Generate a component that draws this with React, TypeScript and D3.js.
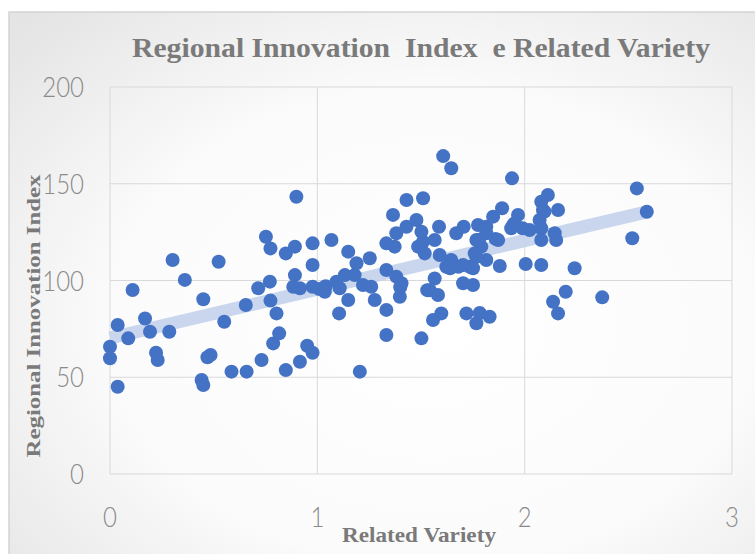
import React from "react";
import * as d3 from "d3";

const title = "Regional Innovation  Index  e Related Variety";
const xTitle = "Related Variety";
const yTitle = "Regional Innovation Index";
const xTicks = [0, 1, 2, 3];
const yTicks = [0, 50, 100, 150, 200];

const relatedVariety = [
  0.0, 0.0, 0.037, 0.037, 0.088, 0.109, 0.169, 0.193, 0.222, 0.23, 0.286, 0.302, 0.361, 0.442, 0.45, 0.45,
  0.485, 0.47, 0.524, 0.551, 0.586, 0.659, 0.655, 0.715, 0.731, 0.752, 0.774, 0.771, 0.774, 0.787, 0.803,
  0.816, 0.848, 0.848, 0.884, 0.892, 0.892, 0.899, 0.916, 0.916, 0.951, 0.977, 0.977, 0.977, 0.977, 1.01,
  1.036, 1.04, 1.068, 1.092, 1.108, 1.105, 1.133, 1.149, 1.149, 1.18, 1.189, 1.205, 1.22, 1.253, 1.26,
  1.277, 1.333, 1.333, 1.333, 1.333, 1.365, 1.373, 1.381, 1.381, 1.398, 1.406, 1.4, 1.43, 1.43, 1.478,
  1.486, 1.502, 1.51, 1.51, 1.518, 1.502, 1.53, 1.542, 1.558, 1.566, 1.566, 1.587, 1.59, 1.582, 1.598,
  1.607, 1.622, 1.64, 1.646, 1.646, 1.67, 1.68, 1.703, 1.703, 1.706, 1.719, 1.735, 1.751, 1.751, 1.759,
  1.767, 1.767, 1.767, 1.775, 1.783, 1.791, 1.815, 1.815, 1.815, 1.831, 1.848, 1.86, 1.872, 1.88, 1.891,
  1.935, 1.939, 1.944, 1.952, 1.968, 1.99, 2.005, 2.024, 2.072, 2.08, 2.08, 2.08, 2.08, 2.088, 2.096,
  2.112, 2.137, 2.145, 2.152, 2.161, 2.161, 2.198, 2.241, 2.374, 2.519, 2.541, 2.589, 1.78,
];

const innovationIndex = [
  65.8, 59.8, 77.0, 45.1, 70.1, 95.1, 80.4, 73.5, 62.7, 58.9, 73.5, 110.6, 100.3, 48.6, 46.0, 90.3,
  61.5, 60.3, 109.7, 78.7, 52.9, 52.9, 87.3, 96.0, 58.9, 122.6, 116.6, 99.4, 89.6, 67.5, 83.0,
  72.7, 114.0, 53.7, 96.8, 117.5, 102.8, 143.3, 96.0, 58.0, 66.3, 119.2, 108.0, 96.8, 62.7, 95.6,
  94.2, 97.0, 120.9, 99.4, 96.0, 83.0, 102.8, 114.9, 89.9, 102.8, 108.9, 52.9, 97.7, 111.5, 96.8,
  89.9, 119.2, 105.4, 84.8, 71.8, 133.9, 117.5, 124.4, 102.0, 91.6, 98.6, 96.5, 141.6, 127.8, 131.3,
  117.5, 125.2, 142.5, 120.0, 114.0, 70.1, 95.0, 95.0, 79.6, 120.9, 101.0, 127.8, 113.2, 92.5, 83.0,
  164.3, 107.1, 106.3, 158.0, 110.6, 124.4, 107.1, 108.0, 98.6, 127.8, 83.0, 107.1, 106.3, 97.7, 114.0,
  120.9, 112.3, 77.9, 128.7, 83.2, 117.5, 127.8, 124.4, 110.6, 81.3, 133.0, 121.5, 120.9, 107.5, 137.3,
  127.0, 152.8, 128.7, 129.6, 133.9, 127.0, 108.5, 126.1, 131.3, 140.7, 127.0, 120.9, 108.0, 136.4, 135.6,
  144.2, 89.0, 124.4, 120.9, 136.4, 83.0, 94.2, 106.3, 91.3, 121.8, 147.6, 135.5, 121.0,
];

const trendX = [0, 2.59];
const trendY = [70.3, 135.5];

const W = 755;
const H = 554;

export default function App() {
  const x = d3.scaleLinear().domain([0, 3]).range([110, 732]);
  const y = d3.scaleLinear().domain([0, 200]).range([474, 87]);
  const trend = d3
    .line<number>()
    .x((d, i) => x(trendX[i]))
    .y((d, i) => y(trendY[i]))(trendX as any) as string;

  const serif = "'Liberation Serif', 'DejaVu Serif', serif";
  const sans = "Lato, 'Liberation Sans', Arial, sans-serif";
  const tickFill = "#8a8a8a";

  return (
    <svg
      width={W}
      height={H}
      style={{ position: "absolute", left: 0, top: 0, background: "#ffffff" }}
    >
      <defs>
        <radialGradient id="bg" cx="0.55" cy="0.55" r="0.75">
          <stop offset="0" stopColor="#ffffff" />
          <stop offset="0.55" stopColor="#fbfbfb" />
          <stop offset="1" stopColor="#e4e4e4" />
        </radialGradient>
      </defs>
      <rect x={9} y={12} width={770} height={570} fill="url(#bg)" stroke="#d4d4d4" strokeWidth={1.5} />

      {/* grid */}
      {xTicks.map((t) => (
        <line key={"gx" + t} x1={x(t)} x2={x(t)} y1={y(200)} y2={y(0)} stroke="#d9d9d9" strokeWidth={1} />
      ))}
      {yTicks.map((t) => (
        <line key={"gy" + t} x1={x(0)} x2={x(3)} y1={y(t)} y2={y(t)} stroke="#d9d9d9" strokeWidth={1} />
      ))}

      {/* tick labels */}
      {yTicks.map((t) => (
        <g key={"ty" + t} transform={`translate(84,${y(t) + 10}) scale(1,1.18)`}>
          <text x={0} y={0} textAnchor="end" fontFamily={sans} fontWeight={300} fontSize={24} fill={tickFill}>
            {t}
          </text>
        </g>
      ))}
      {xTicks.map((t) => (
        <g key={"tx" + t} transform={`translate(${x(t)},527) scale(1,1.18)`}>
          <text x={0} y={0} textAnchor="middle" fontFamily={sans} fontWeight={300} fontSize={24} fill={tickFill}>
            {t}
          </text>
        </g>
      ))}

      {/* trend band */}
      <path d={trend} stroke="#c3d2ec" strokeOpacity={0.9} strokeWidth={13} fill="none" />

      {/* points */}
      {relatedVariety.map((v, i) => (
        <circle key={"p" + i} cx={x(v)} cy={y(innovationIndex[i])} r={7} fill="#4472c4" />
      ))}

      {/* titles */}
      <g transform="translate(421,57) scale(1,1.22)">
        <text
          x={0}
          y={0}
          textAnchor="middle"
          fontFamily={serif}
          fontWeight="bold"
          fontSize={23}
          fill="#7a7a7a"
          textLength={578}
          lengthAdjust="spacingAndGlyphs"
          style={{ whiteSpace: "pre" }}
        >
          {title}
        </text>
      </g>
      <text
        x={419}
        y={542}
        textAnchor="middle"
        fontFamily={serif}
        fontWeight="bold"
        fontSize={21}
        fill="#7a7a7a"
        textLength={154}
        lengthAdjust="spacingAndGlyphs"
      >
        {xTitle}
      </text>
      <text
        transform={`translate(40,316) rotate(-90)`}
        textAnchor="middle"
        fontFamily={serif}
        fontWeight="bold"
        fontSize={18}
        fill="#7a7a7a"
        textLength={283}
        lengthAdjust="spacingAndGlyphs"
      >
        {yTitle}
      </text>
    </svg>
  );
}
